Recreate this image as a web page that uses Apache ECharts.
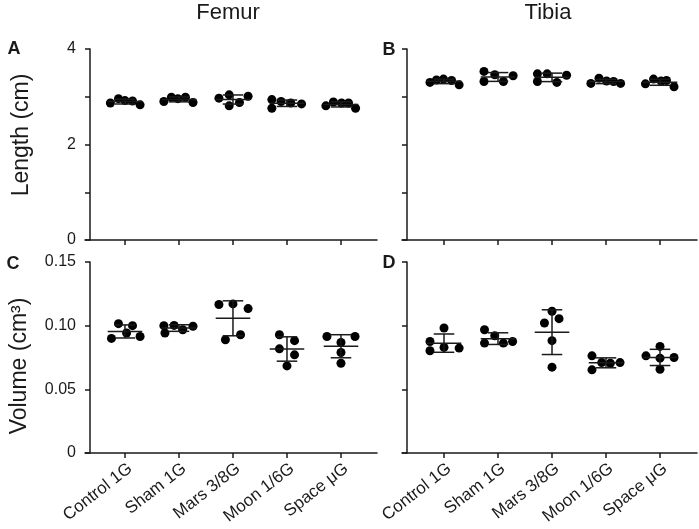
<!DOCTYPE html>
<html>
<head>
<meta charset="utf-8">
<title>Femur / Tibia</title>
<script src="https://cdn.jsdelivr.net/npm/echarts@6/dist/echarts.min.js"></script>
<style>
  html, body { margin: 0; padding: 0; background: #fff; }
  #chart { width: 699px; height: 529px; }
</style>
</head>
<body>
<div id="chart"></div>
<script>
// groups on the x axis
var groups = ['Control 1G', 'Sham 1G', 'Mars 3/8G', 'Moon 1/6G', 'Space μG'];
var groupPos = [1, 2, 3, 4, 5];

// length (cm), five animals per group
var femurLength = [
  [2.87, 2.96, 2.92, 2.91, 2.83],
  [2.90, 2.99, 2.96, 2.99, 2.88],
  [2.97, 3.04, 2.81, 2.88, 3.01],
  [2.94, 2.76, 2.90, 2.87, 2.85],
  [2.81, 2.89, 2.87, 2.87, 2.76]
];
var tibiaLength = [
  [3.30, 3.35, 3.37, 3.34, 3.25],
  [3.53, 3.32, 3.46, 3.32, 3.44],
  [3.48, 3.32, 3.48, 3.30, 3.45],
  [3.28, 3.39, 3.33, 3.32, 3.28],
  [3.27, 3.37, 3.33, 3.34, 3.21]
];

// volume (cm3)
var femurVolume = [
  [0.0900, 0.1016, 0.0942, 0.1000, 0.0915],
  [0.1000, 0.0942, 0.1002, 0.0968, 0.0995],
  [0.1166, 0.1171, 0.1134, 0.0889, 0.0929],
  [0.0929, 0.0882, 0.0818, 0.0771, 0.0684],
  [0.0915, 0.0915, 0.0868, 0.0789, 0.0705]
];
var tibiaVolume = [
  [0.0876, 0.0803, 0.0982, 0.0829, 0.0824],
  [0.0968, 0.0863, 0.0921, 0.0863, 0.0876],
  [0.1113, 0.1021, 0.1055, 0.0882, 0.0674],
  [0.0763, 0.0653, 0.0710, 0.0705, 0.0710],
  [0.0763, 0.0837, 0.0745, 0.0750, 0.0658]
];

// horizontal scatter of the dots inside each group (in group units)
var jitterA = [
  [-0.27, -0.12, 0.00, 0.14, 0.28],
  [-0.28, -0.14, -0.02, 0.12, 0.26],
  [-0.26, -0.07, -0.07, 0.12, 0.28],
  [-0.28, -0.28, -0.11, 0.07, 0.27],
  [-0.28, -0.14, 0.01, 0.14, 0.27]
];
var jitterB = [
  [-0.26, -0.14, -0.01, 0.14, 0.28],
  [-0.26, -0.26, -0.06, 0.10, 0.28],
  [-0.27, -0.27, -0.09, 0.09, 0.27],
  [-0.28, -0.13, 0.01, 0.14, 0.27],
  [-0.27, -0.12, 0.02, 0.12, 0.26]
];
var jitterC = [
  [-0.25, -0.12, 0.03, 0.14, 0.28],
  [-0.28, -0.26, -0.09, 0.07, 0.26],
  [-0.26, 0.00, 0.28, -0.14, 0.14],
  [-0.14, 0.14, -0.14, 0.14, 0.00],
  [-0.26, 0.26, 0.00, 0.00, 0.00]
];
var jitterD = [
  [-0.26, -0.26, 0.00, 0.00, 0.28],
  [-0.25, -0.25, -0.06, 0.10, 0.27],
  [0.00, -0.14, 0.13, 0.00, 0.00],
  [-0.26, -0.26, -0.08, 0.08, 0.26],
  [-0.26, 0.00, 0.00, 0.26, 0.00]
];

var ink = '#1a1a1a';
var font = 'Liberation Sans, Arial, sans-serif';

function mean(a) {
  var s = 0;
  for (var i = 0; i < a.length; i++) s += a[i];
  return s / a.length;
}
function sd(a) {
  var m = mean(a), s = 0;
  for (var i = 0; i < a.length; i++) s += (a[i] - m) * (a[i] - m);
  return Math.sqrt(s / (a.length - 1));
}

function dots(values, jitter) {
  var out = [];
  for (var g = 0; g < values.length; g++) {
    for (var i = 0; i < values[g].length; i++) {
      out.push([groupPos[g] + jitter[g][i], values[g][i]]);
    }
  }
  return out;
}
function bars(values) {
  return values.map(function (v, g) { return [groupPos[g], mean(v), sd(v)]; });
}

// mean line + SD whiskers
function renderErr(params, api) {
  var x = api.value(0), m = api.value(1), s = api.value(2);
  var st = { stroke: ink, lineWidth: 1.5 };
  function seg(x1, y1, x2, y2) {
    var p1 = api.coord([x1, y1]), p2 = api.coord([x2, y2]);
    return { type: 'line', shape: { x1: p1[0], y1: p1[1], x2: p2[0], y2: p2[1] }, style: st };
  }
  return {
    type: 'group',
    children: [
      seg(x - 0.32, m, x + 0.32, m),
      seg(x, m - s, x, m + s),
      seg(x - 0.19, m + s, x + 0.19, m + s),
      seg(x - 0.19, m - s, x + 0.19, m - s)
    ]
  };
}

function xAxis(idx, min, max, labels) {
  return {
    type: 'value', gridIndex: idx, min: min, max: max,
    splitLine: { show: false },
    axisLine: { onZero: false, lineStyle: { color: ink, width: 1.5 } },
    axisTick: { show: true, length: 5, customValues: groupPos, lineStyle: { color: ink, width: 1.5 } },
    axisLabel: {
      show: labels, customValues: groupPos, rotate: 38, margin: 7,
      align: 'right', verticalAlign: 'top',
      color: ink, fontSize: 17, fontFamily: font,
      formatter: function (v) { return groups[Math.round(v) - 1]; }
    }
  };
}
function yAxis(idx, max, interval, labels, fmt) {
  return {
    type: 'value', gridIndex: idx, min: 0, max: max, interval: interval, offset: -5,
    splitLine: { show: false },
    axisLine: { show: true, onZero: false, lineStyle: { color: ink, width: 1.5 } },
    axisTick: { show: true, length: 5, lineStyle: { color: ink, width: 1.5 } },
    axisLabel: { show: labels, margin: 14, color: ink, fontSize: 16, fontFamily: font, formatter: fmt }
  };
}

var lenFmt = function (v) { return v % 2 === 0 ? String(v) : ''; };
var volFmt = function (v) { return v === 0 ? '0' : v.toFixed(2); };

var panels = [
  { values: femurLength, jitter: jitterA },
  { values: tibiaLength, jitter: jitterB },
  { values: femurVolume, jitter: jitterC },
  { values: tibiaVolume, jitter: jitterD }
];

var series = [];
panels.forEach(function (p, i) {
  series.push({
    type: 'scatter', xAxisIndex: i, yAxisIndex: i, data: dots(p.values, p.jitter),
    symbol: 'circle', symbolSize: 9, itemStyle: { color: '#000', opacity: 1 }, z: 2
  });
  series.push({
    type: 'custom', xAxisIndex: i, yAxisIndex: i, data: bars(p.values),
    renderItem: renderErr, z: 3
  });
});

function txt(x, y, s, size, weight, rot) {
  return {
    type: 'text', x: x, y: y, rotation: rot || 0,
    style: { text: s, fill: ink, font: (weight || 'normal') + ' ' + size + 'px ' + font, align: 'center', verticalAlign: 'middle' }
  };
}

var chart = echarts.init(document.getElementById('chart'), null, { renderer: 'canvas' });
chart.setOption({
  backgroundColor: '#fff',
  animation: false,
  grid: [
    { left: 85, top: 49, width: 292, height: 191 },
    { left: 402, top: 49, width: 295, height: 191 },
    { left: 85, top: 262, width: 292, height: 191 },
    { left: 402, top: 262, width: 295, height: 191 }
  ],
  xAxis: [
    xAxis(0, 0.26, 5.667, false),
    xAxis(1, 0.222, 5.685, false),
    xAxis(2, 0.26, 5.667, true),
    xAxis(3, 0.222, 5.685, true)
  ],
  yAxis: [
    yAxis(0, 4, 1, true, lenFmt),
    yAxis(1, 4, 1, false, lenFmt),
    yAxis(2, 0.15, 0.05, true, volFmt),
    yAxis(3, 0.15, 0.05, false, volFmt)
  ],
  graphic: [
    txt(228, 13, 'Femur', 22),
    txt(548, 13, 'Tibia', 22),
    txt(14, 49, 'A', 18, 'bold'),
    txt(389, 50, 'B', 18, 'bold'),
    txt(13, 264, 'C', 18, 'bold'),
    txt(389, 263, 'D', 18, 'bold'),
    txt(22, 135, 'Length (cm)', 23, 'normal', Math.PI / 2),
    txt(20, 366, 'Volume (cm³)', 23, 'normal', Math.PI / 2)
  ],
  series: series
});
</script>
</body>
</html>
